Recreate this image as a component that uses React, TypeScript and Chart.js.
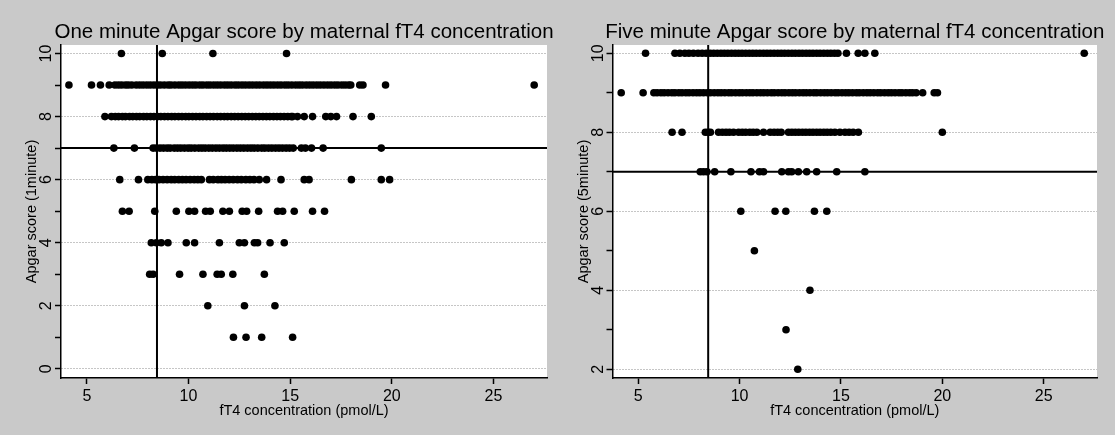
import React, { useEffect, useRef } from "react";
import { Chart, registerables } from "chart.js";

Chart.register(...registerables);

// ---------- data ----------
const FT4_CUTOFF = 8.45;
const APGAR_CUTOFF = 7;
const X_MIN = 3.73;
const X_MAX = 27.63;
const X_TICKS = [5, 10, 15, 20, 25];
const X_TITLE = "fT4 concentration (pmol/L)";

const ONE_MIN_TITLE = "One minute Apgar score by maternal fT4 concentration";
const ONE_MIN_Y_TITLE = "Apgar score (1minute)";
const ONE_MIN_Y_RANGE = [-0.29, 10.27];
const ONE_MIN_Y_TICKS = [0, 1, 2, 3, 4, 5, 6, 7, 8, 9, 10];
const ONE_MIN_Y_LABELS = [0, 2, 4, 6, 8, 10];

const FIVE_MIN_TITLE = "Five minute Apgar score by maternal fT4 concentration";
const FIVE_MIN_Y_TITLE = "Apgar score (5minute)";
const FIVE_MIN_Y_RANGE = [1.78, 10.21];
const FIVE_MIN_Y_TICKS = [2, 3, 4, 5, 6, 7, 8, 9, 10];
const FIVE_MIN_Y_LABELS = [2, 4, 6, 8, 10];

// fT4 values (pmol/L) of the infants at each 1-minute Apgar score
const ONE_MIN_10 = [6.7, 8.71, 11.2, 14.82];
const ONE_MIN_9 = [4.12, 5.23, 5.67, 6.1, 6.38, 6.55, 6.71, 6.9, 7.04, 7.21, 7.43, 7.6, 7.77, 7.95, 8.12, 8.3, 8.47, 8.62, 8.81, 9.0, 9.14, 9.33, 9.52, 9.68, 9.85, 10.03, 10.2, 10.36, 10.55, 10.71, 10.9, 11.06, 11.24, 11.41, 11.58, 11.77, 11.93, 12.1, 12.29, 12.45, 12.63, 12.8, 12.98, 13.15, 13.33, 13.5, 13.69, 13.86, 14.03, 14.2, 14.38, 14.55, 14.74, 14.9, 15.08, 15.27, 15.44, 15.6, 15.79, 15.96, 16.13, 16.31, 16.48, 16.66, 16.84, 17.01, 17.19, 17.35, 17.54, 17.7, 17.87, 17.98, 18.42, 18.58, 19.69, 27.0];
const ONE_MIN_8 = [5.89, 6.21, 6.4, 6.56, 6.75, 6.9, 7.1, 7.26, 7.44, 7.6, 7.79, 7.95, 8.13, 8.3, 8.48, 8.64, 8.82, 8.99, 9.17, 9.33, 9.51, 9.68, 9.86, 10.02, 10.2, 10.37, 10.55, 10.71, 10.89, 11.06, 11.23, 11.41, 11.58, 11.76, 11.92, 12.1, 12.27, 12.44, 12.62, 12.79, 12.96, 13.14, 13.31, 13.48, 13.66, 13.83, 14.0, 14.18, 14.35, 14.52, 14.7, 14.88, 15.05, 15.12, 15.36, 15.69, 16.1, 16.75, 17.0, 17.28, 18.09, 18.99];
const ONE_MIN_7 = [6.33, 7.34, 8.26, 8.42, 8.6, 8.77, 8.95, 9.1, 9.3, 9.46, 9.62, 9.8, 9.98, 10.13, 10.31, 10.5, 10.66, 10.82, 11.0, 11.17, 11.35, 11.52, 11.7, 11.86, 12.03, 12.2, 12.38, 12.55, 12.72, 12.9, 13.07, 13.23, 13.41, 13.6, 13.75, 13.93, 14.1, 14.28, 14.45, 14.62, 14.8, 14.97, 15.15, 15.55, 15.75, 16.05, 16.62, 19.48];
const ONE_MIN_6 = [6.62, 7.54, 8.0, 8.2, 8.38, 8.55, 8.75, 8.95, 9.15, 9.32, 9.52, 9.7, 9.88, 10.08, 10.28, 10.46, 10.63, 11.03, 11.22, 11.45, 11.62, 11.8, 12.0, 12.2, 12.41, 12.6, 12.82, 13.02, 13.22, 13.48, 13.84, 14.55, 15.69, 15.93, 18.01, 19.48, 19.89];
const ONE_MIN_5 = [6.75, 7.08, 8.34, 9.4, 10.02, 10.3, 10.84, 11.07, 11.69, 12.01, 12.64, 12.86, 13.45, 14.38, 14.63, 15.2, 16.1, 16.69];
const ONE_MIN_4 = [8.17, 8.42, 8.66, 8.99, 9.89, 10.3, 11.52, 12.5, 12.75, 13.24, 13.4, 14.01, 14.71];
const ONE_MIN_3 = [8.09, 8.26, 9.56, 10.71, 11.41, 11.61, 12.18, 13.73];
const ONE_MIN_2 = [10.95, 12.75, 14.25];
const ONE_MIN_1 = [12.21, 12.83, 13.6, 15.12];

// fT4 values (pmol/L) of the infants at each 5-minute Apgar score
const FIVE_MIN_10 = [5.36, 6.81, 7.05, 7.3, 7.5, 7.72, 7.95, 8.15, 8.35, 8.55, 8.72, 8.9, 9.08, 9.25, 9.42, 9.6, 9.78, 9.95, 10.12, 10.3, 10.48, 10.65, 10.82, 11.0, 11.18, 11.35, 11.52, 11.7, 11.88, 12.05, 12.22, 12.4, 12.58, 12.75, 12.93, 13.1, 13.28, 13.45, 13.62, 13.8, 13.97, 14.15, 14.33, 14.5, 14.68, 14.85, 15.27, 15.85, 16.18, 16.67, 27.0];
const FIVE_MIN_9 = [4.16, 5.24, 5.77, 5.93, 6.12, 6.28, 6.47, 6.66, 6.81, 7.0, 7.16, 7.35, 7.51, 7.7, 7.88, 8.04, 8.22, 8.41, 8.56, 8.75, 8.93, 9.09, 9.27, 9.46, 9.61, 9.8, 9.98, 10.14, 10.33, 10.5, 10.66, 10.85, 11.03, 11.19, 11.37, 11.56, 11.71, 11.9, 12.08, 12.24, 12.43, 12.6, 12.76, 12.95, 13.13, 13.29, 13.47, 13.66, 13.81, 14.0, 14.18, 14.34, 14.52, 14.71, 14.86, 15.05, 15.23, 15.39, 15.57, 15.76, 15.91, 16.1, 16.28, 16.44, 16.62, 16.81, 16.96, 17.15, 17.33, 17.49, 17.67, 17.86, 18.01, 18.2, 18.38, 18.53, 18.71, 19.03, 19.6, 19.76];
const FIVE_MIN_8 = [6.67, 7.16, 8.31, 8.45, 8.56, 8.96, 9.15, 9.33, 9.5, 9.7, 9.95, 10.13, 10.3, 10.5, 10.67, 10.85, 11.18, 11.51, 11.7, 11.88, 12.05, 12.41, 12.58, 12.75, 12.92, 13.1, 13.27, 13.45, 13.62, 13.8, 13.97, 14.15, 14.32, 14.5, 14.7, 14.95, 15.2, 15.4, 15.6, 15.86, 20.0];
const FIVE_MIN_7 = [8.06, 8.22, 8.39, 8.77, 9.57, 10.56, 10.98, 11.18, 12.08, 12.41, 12.57, 12.9, 13.31, 13.8, 14.79, 16.18];
const FIVE_MIN_6 = [10.06, 11.75, 12.28, 13.69, 14.3];
const FIVE_MIN_5 = [10.73];
const FIVE_MIN_4 = [13.47];
const FIVE_MIN_3 = [12.29];
const FIVE_MIN_2 = [12.87];

const ONE_MIN_ROWS: [number, number[]][] = [
  [10, ONE_MIN_10], [9, ONE_MIN_9], [8, ONE_MIN_8], [7, ONE_MIN_7], [6, ONE_MIN_6],
  [5, ONE_MIN_5], [4, ONE_MIN_4], [3, ONE_MIN_3], [2, ONE_MIN_2], [1, ONE_MIN_1],
];
const FIVE_MIN_ROWS: [number, number[]][] = [
  [10, FIVE_MIN_10], [9, FIVE_MIN_9], [8, FIVE_MIN_8], [7, FIVE_MIN_7], [6, FIVE_MIN_6],
  [5, FIVE_MIN_5], [4, FIVE_MIN_4], [3, FIVE_MIN_3], [2, FIVE_MIN_2],
];

// ---------- layout / style ----------
const FONT = '"Liberation Sans", Arial, Helvetica, sans-serif';
const PAGE_W = 1115;
const PAGE_H = 435;
const BG = "#c9c9c9";
const PLOT_TOP = 45;
const PLOT_BOTTOM = 378;

type Panel = {
  title: string;
  yTitle: string;
  rows: [number, number[]][];
  yRange: number[];
  yTicks: number[];
  yLabels: number[];
  left: number;
  width: number;
  axisLeft: number;
  padRight: number;
};

const PANELS: Panel[] = [
  {
    title: ONE_MIN_TITLE, yTitle: ONE_MIN_Y_TITLE, rows: ONE_MIN_ROWS, yRange: ONE_MIN_Y_RANGE,
    yTicks: ONE_MIN_Y_TICKS, yLabels: ONE_MIN_Y_LABELS, left: 0, width: 557, axisLeft: 61, padRight: 10,
  },
  {
    title: FIVE_MIN_TITLE, yTitle: FIVE_MIN_Y_TITLE, rows: FIVE_MIN_ROWS, yRange: FIVE_MIN_Y_RANGE,
    yTicks: FIVE_MIN_Y_TICKS, yLabels: FIVE_MIN_Y_LABELS, left: 557, width: 558, axisLeft: 55.5, padRight: 18,
  },
];

function buildConfig(p: Panel): any {
  const points: { x: number; y: number }[] = [];
  for (const [score, xs] of p.rows) for (const x of xs) points.push({ x, y: score });
  const [yMin, yMax] = p.yRange;

  const panelPlugin = {
    id: "panelDecor",
    beforeDraw(chart: any) {
      const { ctx, chartArea } = chart;
      ctx.save();
      ctx.fillStyle = "#ffffff";
      ctx.fillRect(chartArea.left, chartArea.top, chartArea.right - chartArea.left, chartArea.bottom - chartArea.top);
      ctx.restore();
    },
    afterDraw(chart: any) {
      const { ctx, chartArea, scales } = chart;
      ctx.save();
      ctx.fillStyle = "#000";
      ctx.font = `20.5px ${FONT}`;
      ctx.textAlign = "center";
      ctx.textBaseline = "alphabetic";
      ctx.fillText(p.title, (chartArea.left + chartArea.right) / 2, 38);
      ctx.font = `16px ${FONT}`;
      ctx.textBaseline = "middle";
      for (const v of p.yLabels) {
        const py = scales.y.getPixelForValue(v);
        ctx.save();
        ctx.translate(chartArea.left - 14, py);
        ctx.rotate(-Math.PI / 2);
        ctx.fillText(String(v), 0, 0);
        ctx.restore();
      }
      ctx.restore();
    },
  };

  return {
    type: "scatter",
    data: {
      datasets: [
        {
          data: points,
          pointRadius: 3.8,
          pointHoverRadius: 3.8,
          backgroundColor: "#000",
          borderWidth: 0,
          order: 0,
        },
        {
          data: [{ x: FT4_CUTOFF, y: yMin }, { x: FT4_CUTOFF, y: yMax }],
          showLine: true,
          borderColor: "#000",
          borderWidth: 2,
          pointRadius: 0,
          order: 1,
        },
        {
          data: [{ x: X_MIN, y: APGAR_CUTOFF }, { x: X_MAX, y: APGAR_CUTOFF }],
          showLine: true,
          borderColor: "#000",
          borderWidth: 2,
          pointRadius: 0,
          order: 1,
        },
      ],
    },
    options: {
      animation: false,
      responsive: false,
      events: [],
      layout: { padding: { top: PLOT_TOP, right: p.padRight, bottom: 0, left: 0 } },
      plugins: {
        legend: { display: false },
        tooltip: { enabled: false },
        title: { display: false },
      },
      scales: {
        x: {
          type: "linear",
          min: X_MIN,
          max: X_MAX,
          afterBuildTicks: (s: any) => {
            s.ticks = X_TICKS.map((v) => ({ value: v }));
          },
          afterFit: (s: any) => {
            s.height = PAGE_H - PLOT_BOTTOM;
          },
          grid: { drawOnChartArea: false, drawTicks: true, tickLength: 6, tickColor: "#000", tickWidth: 1.5 },
          border: { display: true, color: "#000", width: 1.5 },
          ticks: { color: "#000", font: { family: FONT, size: 16 }, padding: 3, maxRotation: 0, autoSkip: false },
          title: {
            display: true,
            text: X_TITLE,
            color: "#000",
            font: { family: FONT, size: 14.5 },
            padding: { top: 0, bottom: 15 },
          },
        },
        y: {
          type: "linear",
          min: yMin,
          max: yMax,
          afterBuildTicks: (s: any) => {
            s.ticks = p.yTicks.map((v) => ({ value: v }));
          },
          afterFit: (s: any) => {
            s.width = p.axisLeft;
          },
          grid: {
            color: (c: any) => (c.tick && p.yLabels.includes(c.tick.value) ? "#8c8c8c" : "rgba(0,0,0,0)"),
            lineWidth: 1,
            drawTicks: true,
            tickLength: 6,
            tickColor: "#000",
            tickWidth: 1.5,
          },
          border: { display: true, color: "#000", width: 1.5, dash: [1, 2] },
          ticks: { display: false },
          title: {
            display: true,
            text: p.yTitle,
            color: "#000",
            font: { family: FONT, size: 14.5 },
            padding: { top: p.axisLeft - 29 - 8.7, bottom: 0 },
          },
        },
      },
    },
    plugins: [panelPlugin],
  };
}

function PanelChart({ panel }: { panel: Panel }) {
  const ref = useRef<HTMLCanvasElement | null>(null);
  useEffect(() => {
    if (!ref.current) return;
    const chart = new Chart(ref.current, buildConfig(panel));
    return () => chart.destroy();
  }, [panel]);
  return (
    <canvas
      ref={ref}
      width={panel.width}
      height={PAGE_H}
      style={{ position: "absolute", left: panel.left, top: 0, width: panel.width, height: PAGE_H }}
    />
  );
}

export default function App() {
  return (
    <div
      style={{
        position: "fixed",
        left: 0,
        top: 0,
        width: PAGE_W,
        height: PAGE_H,
        background: BG,
        overflow: "hidden",
      }}
    >
      {PANELS.map((p, i) => (
        <PanelChart key={i} panel={p} />
      ))}
    </div>
  );
}
